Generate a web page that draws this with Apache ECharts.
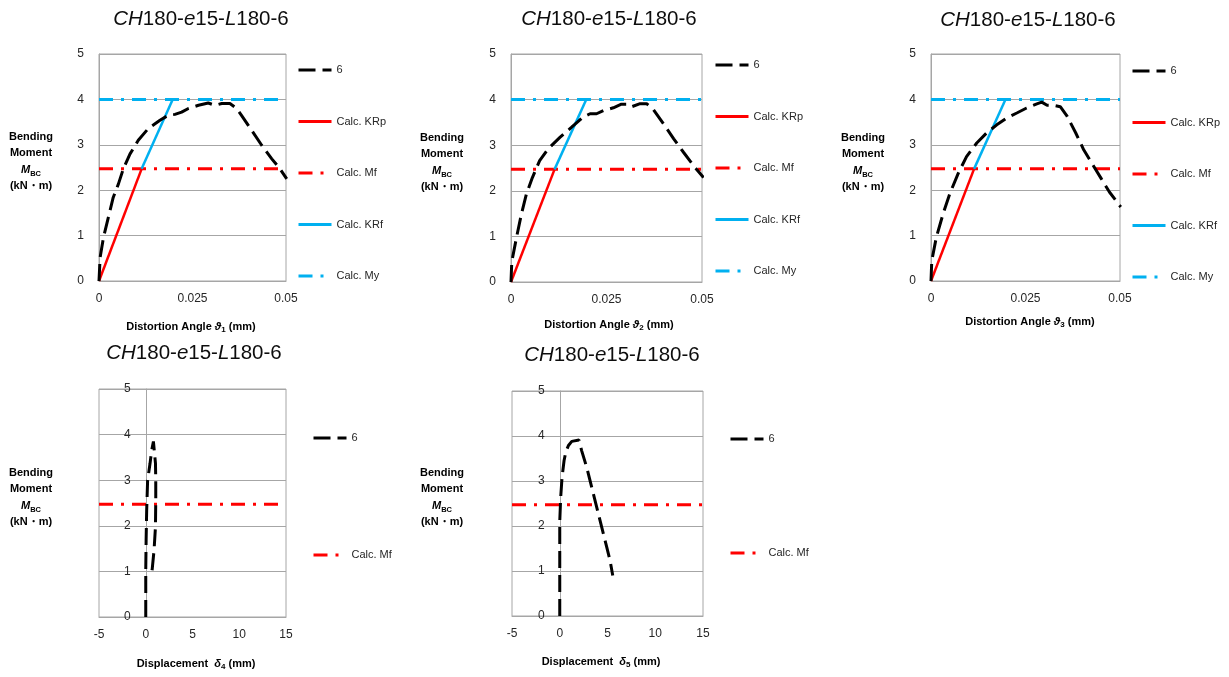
<!DOCTYPE html>
<html><head><meta charset="utf-8">
<script src="https://cdn.jsdelivr.net/npm/echarts@6/dist/echarts.min.js"></script>
<style>html,body{margin:0;padding:0;background:#fff}#c{width:1229px;height:677px}</style>
</head><body><div id="c"></div><script>
// ---- data ----
const theta1 = [0, 0.0003, 0.0012, 0.0025, 0.0038, 0.0052, 0.0065, 0.0083, 0.0105, 0.0132, 0.0163, 0.0185, 0.0203, 0.0221, 0.0239, 0.0266, 0.0292, 0.031, 0.0328, 0.035, 0.0368, 0.0381, 0.0408, 0.0435, 0.0462, 0.0484, 0.0502];
const moment1 = [0, 0.52, 0.96, 1.4, 1.84, 2.14, 2.47, 2.8, 3.1, 3.36, 3.54, 3.65, 3.67, 3.72, 3.8, 3.87, 3.92, 3.87, 3.91, 3.91, 3.8, 3.65, 3.32, 2.99, 2.69, 2.47, 2.25];
const theta2 = [0, 0.0002, 0.0014, 0.0027, 0.004, 0.0056, 0.0075, 0.0097, 0.0128, 0.0158, 0.0189, 0.0207, 0.0224, 0.0242, 0.0268, 0.0289, 0.0303, 0.0315, 0.0338, 0.0355, 0.0373, 0.0399, 0.0426, 0.0452, 0.0478, 0.0504];
const moment2 = [0, 0.44, 0.96, 1.48, 1.92, 2.29, 2.66, 2.92, 3.17, 3.39, 3.62, 3.69, 3.69, 3.76, 3.82, 3.9, 3.9, 3.84, 3.91, 3.91, 3.78, 3.47, 3.14, 2.84, 2.55, 2.29];
const theta3 = [0, 0.0002, 0.0014, 0.0032, 0.005, 0.0072, 0.0094, 0.0121, 0.0147, 0.0174, 0.02, 0.0227, 0.0253, 0.028, 0.0293, 0.0307, 0.0324, 0.0342, 0.036, 0.0383, 0.0404, 0.0428, 0.045, 0.0472, 0.0502];
const moment3 = [0, 0.44, 0.96, 1.48, 1.93, 2.37, 2.74, 3.04, 3.26, 3.44, 3.59, 3.7, 3.81, 3.9, 3.94, 3.87, 3.87, 3.84, 3.63, 3.26, 2.89, 2.56, 2.26, 1.96, 1.63];
const delta4 = [0, 0, 0.04, 0.1, 0.2, 0.46, 0.64, 0.82, 0.93, 1.0, 1.04, 1.07, 1.07, 1.04, 0.89, 0.68, 0.57];
const moment4 = [0, 1.03, 1.69, 2.35, 3.0, 3.37, 3.66, 3.85, 3.87, 3.85, 3.37, 3.0, 2.57, 1.98, 1.47, 1.03, 0.88];
const delta5 = [0, 0, 0, 0.1, 0.24, 0.45, 0.63, 0.91, 1.26, 1.43, 2.02, 2.3, 2.83, 3.35, 3.88, 4.4, 4.92, 5.27, 5.55];
const moment5 = [0, 1.0, 2.1, 2.64, 3.08, 3.45, 3.64, 3.79, 3.88, 3.9, 3.91, 3.67, 3.3, 2.86, 2.41, 1.97, 1.53, 1.23, 0.9];

const calcMf = 2.47;
const calcMy = 4.0;
const krpX = [0, 0.0114];
const krpY = [0, 2.47];
const krfX = [0.0114, 0.0197];
const krfY = [2.47, 4.0];
const thetaRange = [0, 0.05];
const deltaRange = [-5, 15];
const momentRange = [0, 5];

const seriesNames = ['6', 'Calc. KRp', 'Calc. Mf', 'Calc. KRf', 'Calc. My'];
const titleText = '{i|CH}180-{i|e}15-{i|L}180-6';

// ---- layout / styles ----
const FONT = 'Liberation Sans';
const RED = '#FF0000', BLUE = '#00B0F0', GRID = '#A6A6A6', TXT = '#262626';
const DASH6 = [17, 7];
const DASHDOT = [14, 8, 3, 8];

const grids = [
  {left: 99, top: 54, width: 187, height: 227},
  {left: 511, top: 54, width: 191, height: 228},
  {left: 931, top: 54, width: 189, height: 227},
  {left: 99, top: 389, width: 187, height: 228},
  {left: 512, top: 391, width: 191, height: 225}
];
const legendPos = [
  {left: 297, top: 63, gap: 37.5, names: seriesNames},
  {left: 714, top: 58, gap: 37.5, names: seriesNames},
  {left: 1131, top: 64, gap: 37.5, names: seriesNames},
  {left: 312, top: 431, gap: 103, names: ['6', 'Calc. Mf']},
  {left: 729, top: 432, gap: 100, names: ['6', 'Calc. Mf']}
];
const titlePos = [[201, 19], [609, 19], [1028, 20], [194, 353], [612, 355]];
const yNamePos = [[31, 137], [442, 138], [863, 138], [31, 473], [442, 473]];
const xNamePos = [[191, 327], [609, 325], [1030, 322], [196, 664], [601, 662]];
const xNameSub = ['1', '2', '3', '4', '5'];

const zip = (xs, ys) => xs.map((x, k) => [x, ys[k]]);
const curves = [zip(theta1, moment1), zip(theta2, moment2), zip(theta3, moment3), zip(delta4, moment4), zip(delta5, moment5)];

const xAxes = [], yAxes = [], series = [], legends = [], graphics = [];
for (let i = 0; i < 5; i++) {
  const isTheta = i < 3;
  const rng = isTheta ? thetaRange : deltaRange;
  const g = grids[i];
  const zeroOffset = (0 - rng[0]) / (rng[1] - rng[0]) * g.width;
  xAxes.push({
    type: 'value', gridIndex: i, min: rng[0], max: rng[1], interval: isTheta ? 0.025 : 5,
    axisLine: {show: true, onZero: false, lineStyle: {color: GRID, width: 1}},
    axisTick: {show: false}, splitLine: {show: false},
    axisLabel: {color: TXT, fontSize: 12, fontFamily: FONT, margin: 12,
      formatter: v => String(Math.round(v * 1000) / 1000)}
  });
  yAxes.push({
    type: 'value', gridIndex: i, min: momentRange[0], max: momentRange[1], interval: 1,
    axisLine: {show: true, onZero: true, lineStyle: {color: GRID, width: 1}},
    axisTick: {show: false},
    splitLine: {show: true, lineStyle: {color: GRID, width: 1}},
    axisLabel: {color: TXT, fontSize: 12, fontFamily: FONT, margin: 15 - zeroOffset}
  });
  series.push({name: '6', type: 'line', xAxisIndex: i, yAxisIndex: i, data: curves[i],
    symbol: 'none', lineStyle: {color: '#000', width: 3, type: DASH6}, itemStyle: {color: '#000'}, z: 5});
  if (isTheta) {
    series.push({name: 'Calc. KRp', type: 'line', xAxisIndex: i, yAxisIndex: i, data: zip(krpX, krpY),
      symbol: 'none', lineStyle: {color: RED, width: 2.5}, itemStyle: {color: RED}, z: 3});
  }
  series.push({name: 'Calc. Mf', type: 'line', xAxisIndex: i, yAxisIndex: i, data: [[rng[0], calcMf], [rng[1], calcMf]],
    symbol: 'none', lineStyle: {color: RED, width: 3, type: DASHDOT}, itemStyle: {color: RED}, z: 3});
  if (isTheta) {
    series.push({name: 'Calc. KRf', type: 'line', xAxisIndex: i, yAxisIndex: i, data: zip(krfX, krfY),
      symbol: 'none', lineStyle: {color: BLUE, width: 2.5}, itemStyle: {color: BLUE}, z: 3});
    series.push({name: 'Calc. My', type: 'line', xAxisIndex: i, yAxisIndex: i, data: [[rng[0], calcMy], [rng[1], calcMy]],
      symbol: 'none', lineStyle: {color: BLUE, width: 3, type: DASHDOT}, itemStyle: {color: BLUE}, z: 3});
  }
  const lp = legendPos[i];
  legends.push({
    orient: 'vertical', left: lp.left, top: lp.top, itemGap: lp.gap, itemWidth: 33, itemHeight: 14,
    data: lp.names.map(n => ({name: n, lineStyle: {width: 3}, itemStyle: {opacity: 0, borderWidth: 0}})),
    selectedMode: false, padding: 0,
    itemStyle: {opacity: 0, borderWidth: 0},
    textStyle: {color: TXT, fontSize: 11, fontFamily: FONT, lineHeight: 14}
  });
  graphics.push({type: 'text', x: titlePos[i][0], y: titlePos[i][1], silent: true,
    style: {text: titleText, align: 'center', verticalAlign: 'middle', textAlign: 'center', textVerticalAlign: 'middle',
      fill: '#0D0D0D', fontSize: 20.5, fontFamily: FONT,
      rich: {i: {fontStyle: 'italic', fontSize: 20.5, fontFamily: FONT, fill: '#0D0D0D'}}}});
  graphics.push({type: 'text', x: yNamePos[i][0], y: yNamePos[i][1] - 8, silent: true,
    style: {text: '{b|Bending}\n{b|Moment}\n{bi|M}{s|BC}\n{b|(kN・m)}', align: 'center', verticalAlign: 'top',
      textAlign: 'center', textVerticalAlign: 'top', fill: '#000', fontFamily: FONT,
      rich: {
        b: {fontWeight: 'bold', fontSize: 11, fontFamily: FONT, lineHeight: 16.3, fill: '#000'},
        bi: {fontWeight: 'bold', fontStyle: 'italic', fontSize: 11, fontFamily: FONT, lineHeight: 16.3, fill: '#000'},
        s: {fontWeight: 'bold', fontSize: 7.5, fontFamily: FONT, lineHeight: 12, verticalAlign: 'bottom', fill: '#000'}
      }}});
  const lead = isTheta ? 'Distortion Angle ' : 'Displacement  ';
  const sym = isTheta ? 'ϑ' : 'δ';
  graphics.push({type: 'text', x: xNamePos[i][0], y: xNamePos[i][1], silent: true,
    style: {text: '{b|' + lead + '}{bi|' + sym + '}{s|' + xNameSub[i] + '}{b| (mm)}', align: 'center', verticalAlign: 'middle',
      textAlign: 'center', textVerticalAlign: 'middle', fill: '#000', fontFamily: FONT,
      rich: {
        b: {fontWeight: 'bold', fontSize: 11, fontFamily: FONT, lineHeight: 14, fill: '#000'},
        bi: {fontWeight: 'bold', fontStyle: 'italic', fontSize: 11, fontFamily: FONT, lineHeight: 14, fill: '#000'},
        s: {fontWeight: 'bold', fontSize: 8, fontFamily: FONT, lineHeight: 10, verticalAlign: 'bottom', fill: '#000'}
      }}});
}

const chart = echarts.init(document.getElementById('c'), null, {renderer: 'canvas'});
chart.setOption({
  animation: false,
  backgroundColor: '#fff',
  grid: grids.map(g => Object.assign({show: true, borderColor: GRID, borderWidth: 1, containLabel: false}, g)),
  xAxis: xAxes,
  yAxis: yAxes,
  legend: legends,
  series: series,
  graphic: {elements: graphics}
});
</script></body></html>
